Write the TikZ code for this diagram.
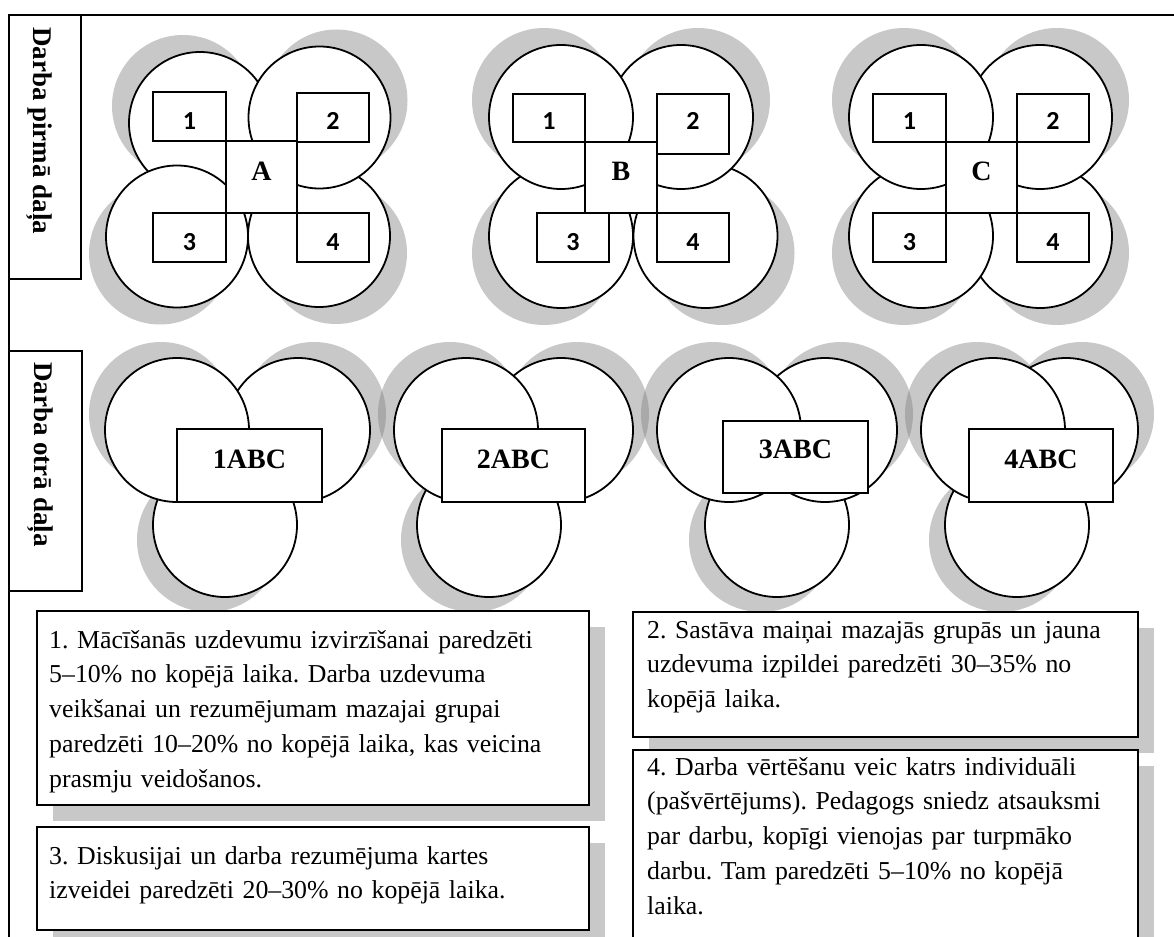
\documentclass[tikz,border=0pt]{standalone}
\usepackage{fontspec}
\setmainfont{Liberation Serif}
\newfontfamily\digitfont{Carlito}[UprightFont={* Bold}]
\usetikzlibrary{calc}

\tikzset{
  outline/.style={draw=black, line width=1.8pt},
  disc/.style={outline, fill=white, circle, inner sep=0pt},
  cell/.style={outline, fill=white, rectangle, inner sep=0pt},
  shade/.style={fill=black!50, fill opacity=0.43, draw=none},
  digit/.style={font=\digitfont\fontsize{26}{26}\selectfont, inner sep=0pt, anchor=base},
  letter/.style={font=\bfseries\fontsize{28}{28}\selectfont, inner sep=0pt, anchor=base},
  side/.style={font=\bfseries\fontsize{27}{27}\selectfont, inner sep=0pt, rotate=-90, anchor=base west},
  note/.style={font=\fontsize{25.8}{34.8}\selectfont\frenchspacing, inner sep=0pt, anchor=base west, text width=#1, align=left},
}

% circle node: name, x, y, radius
\newcommand{\ring}[4]{\node[disc, minimum size=#4*2pt] (#1) at (#2,#3) {};}
% offset grey disc behind a circle: x, y, dx, dy, radius
\newcommand{\ringshade}[5]{\path[shade] ({#1+#3},{#2+#4}) circle[radius=#5pt];}
% rectangle node from its corners: name, x1, y1, x2, y2
\newcommand{\cellbox}[5]{\node[cell, minimum width={#4pt-#2pt}, minimum height={#5pt-#3pt}] (#1) at ({(#2+#4)/2},{(#3+#5)/2}) {};}
% grey block behind a text panel: x1, y1, x2, y2
\newcommand{\panelshade}[4]{\path[shade] ({#1+16},{#2+16}) rectangle ({#3+16},{#4+16});}

\begin{document}
\frenchspacing
\begin{tikzpicture}[x=1pt,y=-1pt]
\path[use as bounding box] (0,0) rectangle (1174,936);
\clip (0,0) rectangle (1174,936);

% outer frame and the two side captions
\draw[outline] (9,15) rectangle (1200,980);
\cellbox{side1}{9}{15}{81}{279}
\cellbox{side2}{9}{351}{82}{591}
\node[side] (side1t) at (33,27) {Darba pirmā daļa};
\node[side] (side2t) at (34,362) {Darba otrā daļa};

% ---------- first part: group A ----------
\ringshade{200}{123}{-17}{-17}{71}
\ringshade{319.5}{117.5}{17}{-17}{71}
\ringshade{177}{236.5}{-17}{17}{71}
\ringshade{319}{236}{17}{17}{71}
\ring{aI}{200}{123}{71}
\ring{aIV}{319}{236}{71}
\ring{aIII}{177}{236.5}{71}
\ring{aII}{319.5}{117.5}{71}
\cellbox{a1}{153}{92}{226}{141}
\cellbox{a2}{297}{93}{369}{142}
\cellbox{a3}{153}{213}{226}{262}
\cellbox{a4}{297}{213}{369}{262}
\cellbox{a0}{226}{141}{297}{213}
\node[digit] (a1n) at (189.5,130) {1};
\node[digit] (a2n) at (333,130) {2};
\node[digit] (a3n) at (189.5,250) {3};
\node[digit] (a4n) at (333,250) {4};
\node[letter] (a0n) at (261.5,180) {A};

% ---------- first part: group B ----------
\ringshade{561}{117}{-17}{-17}{72}
\ringshade{681}{117}{17}{-17}{72}
\ringshade{561}{236}{-17}{17}{72}
\ringshade{705.5}{236}{17}{17}{72}
\ring{bIV}{705.5}{236}{72}
\ring{bIII}{561}{236}{72}
\ring{bII}{681}{117}{72}
\ring{bI}{561}{117}{72}
\cellbox{b1}{513}{94}{585}{142}
\cellbox{b2}{657}{94}{729}{154}
\cellbox{b3}{537}{213}{609}{262}
\cellbox{b4}{657}{213}{729}{262}
\cellbox{b0}{585}{142}{657}{213}
\node[digit] (b1n) at (549,130) {1};
\node[digit] (b2n) at (693,130) {2};
\node[digit] (b3n) at (573,250) {3};
\node[digit] (b4n) at (693,250) {4};
\node[letter] (b0n) at (621,180) {B};

% ---------- first part: group C ----------
\ringshade{921}{117}{-17}{-17}{72}
\ringshade{1040}{117}{17}{-17}{72}
\ringshade{921}{236}{-17}{17}{72}
\ringshade{1040}{236}{17}{17}{72}
\ring{cIV}{1040}{236}{72}
\ring{cIII}{921}{236}{72}
\ring{cII}{1040}{117}{72}
\ring{cI}{921}{117}{72}
\cellbox{c1}{873}{94}{946}{142}
\cellbox{c2}{1017}{94}{1089}{142}
\cellbox{c3}{873}{213}{946}{262}
\cellbox{c4}{1017}{213}{1089}{262}
\cellbox{c0}{946}{142}{1017}{213}
\node[digit] (c1n) at (909.5,130) {1};
\node[digit] (c2n) at (1053,130) {2};
\node[digit] (c3n) at (909.5,250) {3};
\node[digit] (c4n) at (1053,250) {4};
\node[letter] (c0n) at (981.5,180) {C};

% ---------- second part: mixed groups ----------
% 1ABC
\ringshade{177}{430}{-16}{-16}{72}
\ringshade{298}{430}{16}{-16}{72}
\ringshade{225}{525}{-16}{15}{72}
\ring{gAb}{225}{525}{72}
\ring{gAr}{298}{430}{72}
\ring{gAl}{177}{430}{72}
\cellbox{gA}{177}{429}{322}{502}
\node[letter] (gAt) at (249.5,468) {1ABC};
% 2ABC
\ringshade{466}{430}{-16}{-16}{72}
\ringshade{561}{430}{16}{-16}{72}
\ringshade{489}{525}{-16}{15}{72}
\ring{gBb}{489}{525}{72}
\ring{gBr}{561}{430}{72}
\ring{gBl}{466}{430}{72}
\cellbox{gB}{442}{429}{585}{502}
\node[letter] (gBt) at (513.5,468) {2ABC};
% 3ABC
\ringshade{729}{430}{-16}{-16}{72}
\ringshade{825}{430}{16}{-16}{72}
\ringshade{777}{525}{-16}{15}{72}
\ring{gCb}{777}{525}{72}
\ring{gCr}{825}{430}{72}
\ring{gCl}{729}{430}{72}
\cellbox{gC}{723}{421}{868}{493}
\node[letter] (gCt) at (795.5,458) {3ABC};
% 4ABC
\ringshade{993}{430}{-16}{-16}{72}
\ringshade{1066}{430}{16}{-16}{72}
\ringshade{1017}{525}{-16}{15}{72}
\ring{gDb}{1017}{525}{72}
\ring{gDr}{1066}{430}{72}
\ring{gDl}{993}{430}{72}
\cellbox{gD}{969}{429}{1113}{502}
\node[letter] (gDt) at (1041,468) {4ABC};

% ---------- time-share notes ----------
\panelshade{37}{611}{589}{805}
\panelshade{37}{827}{589}{930}
\panelshade{633}{612}{1138}{737}
\panelshade{633}{750}{1138}{980}
\cellbox{n1}{37}{611}{589}{805}
\cellbox{n3}{37}{827}{589}{930}
\cellbox{n2}{633}{612}{1138}{737}
\cellbox{n4}{633}{750}{1138}{980}

\node[note=540pt] (n1t) at (49,648) {1. Mācīšanās uzdevumu izvirzīšanai paredzēti\\
5–10\% no kopējā laika. Darba uzdevuma\\
veikšanai un rezumējumam mazajai grupai\\
paredzēti 10–20\% no kopējā laika, kas veicina\\
prasmju veidošanos.};
\node[note=540pt] (n3t) at (49,864) {3. Diskusijai un darba rezumējuma kartes\\
izveidei paredzēti 20–30\% no kopējā laika.};
\node[note=485pt] (n2t) at (647,638) {2. Sastāva maiņai mazajās grupās un jauna\\
uzdevuma izpildei paredzēti 30–35\% no\\
kopējā laika.};
\node[note=485pt] (n4t) at (647,775) {4. Darba vērtēšanu veic katrs individuāli\\
(pašvērtējums). Pedagogs sniedz atsauksmi\\
par darbu, kopīgi vienojas par turpmāko\\
darbu. Tam paredzēti 5–10\% no kopējā\\
laika.};
\end{tikzpicture}
\end{document}
